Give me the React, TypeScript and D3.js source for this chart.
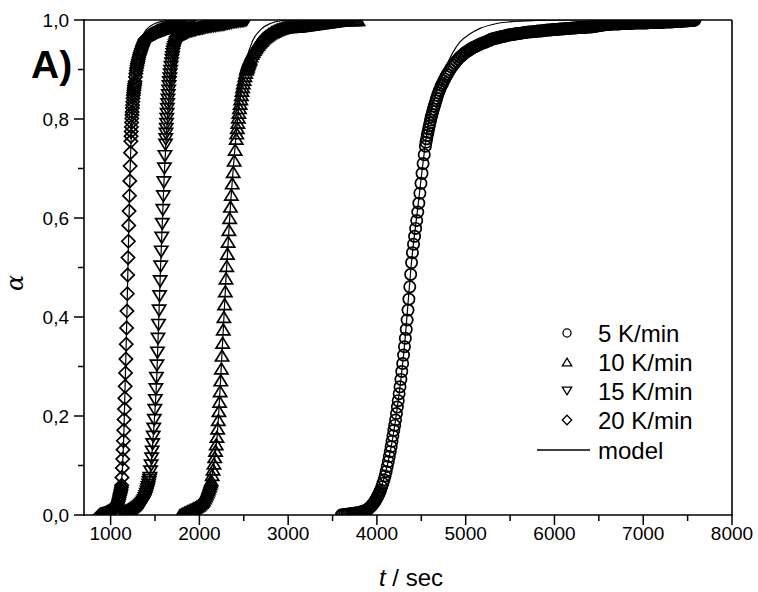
import React from "react";
import * as d3 from "d3";

// ---- data: [t (s), alpha] ----
const rate5K: [number, number][] = [
  [3600,0],[3620,0.0005],[3640,0.001],[3660,0.0015],[3680,0.002],[3700,0.0025],[3720,0.003],[3740,0.0035],[3760,0.004],[3780,0.0045],
  [3800,0.005],[3818,0.006],[3835,0.007],[3852,0.008],[3870,0.009],[3885,0.0105],[3900,0.012],[3912,0.014],[3925,0.016],[3938,0.0185],
  [3950,0.021],[3961,0.0235],[3972,0.026],[3982,0.029],[3992,0.032],[4001,0.035],[4010,0.038],[4018,0.041],[4025,0.044],[4032,0.047],
  [4040,0.050],[4054,0.057],[4067,0.064],[4080,0.071],[4092,0.079],
  [4104,0.088],[4116,0.098],[4128,0.108],[4139,0.118],[4150,0.128],[4160,0.138],[4170,0.149],[4180,0.160],[4190,0.171],[4200,0.181],
  [4210,0.192],[4220,0.205],[4230,0.218],[4240,0.231],[4250,0.245],[4260,0.259],[4270,0.274],[4280,0.290],[4290,0.306],[4300,0.323],
  [4310,0.340],[4320,0.357],[4330,0.375],[4340,0.394],[4350,0.414],[4360,0.436],[4370,0.461],[4380,0.486],[4390,0.510],[4400,0.530],
  [4412,0.547],[4424,0.563],[4436,0.579],[4448,0.595],[4460,0.612],[4472,0.630],[4484,0.650],[4496,0.670],[4508,0.690],[4520,0.710],
  [4533,0.728],[4546,0.745],[4553,0.753],[4560,0.760],[4567,0.767],[4575,0.773],[4582,0.780],[4590,0.786],[4597,0.792],[4605,0.798],
  [4612,0.804],[4620,0.809],[4628,0.815],[4637,0.820],[4646,0.826],[4655,0.831],[4664,0.837],[4673,0.842],[4683,0.848],[4693,0.853],
  [4704,0.858],[4715,0.863],[4727,0.868],[4740,0.872],[4752,0.877],[4765,0.881],[4778,0.886],[4792,0.890],[4808,0.895],[4825,0.900],
  [4842,0.905],[4860,0.909],[4877,0.913],[4895,0.917],[4915,0.921],[4935,0.925],[4955,0.928],[4975,0.931],[4993,0.934],
  [5011,0.936],[5028,0.938],[5045,0.940],[5062,0.942],[5080,0.944],[5097,0.9455],[5115,0.947],[5132,0.9485],[5150,0.950],[5167,0.9515],
  [5185,0.953],[5202,0.954],[5220,0.955],[5237,0.9565],[5255,0.958],[5272,0.9595],[5290,0.961],[5307,0.962],[5325,0.963],[5342,0.9635],
  [5360,0.964],[5377,0.965],[5395,0.966],[5412,0.9665],[5430,0.967],[5447,0.968],[5465,0.969],[5482,0.9695],[5500,0.970],[5517,0.9705],
  [5535,0.971],[5552,0.9715],[5570,0.972],[5587,0.9725],[5605,0.973],[5622,0.9735],[5640,0.974],[5657,0.9745],[5675,0.975],[5692,0.9755],
  [5710,0.976],[5727,0.976],[5745,0.976],[5762,0.9765],[5780,0.977],[5797,0.9775],[5815,0.978],[5832,0.978],[5850,0.978],[5867,0.9785],
  [5885,0.979],[5902,0.9795],[5920,0.980],[5937,0.980],[5955,0.980],[5972,0.9805],[5990,0.981],[6007,0.981],[6025,0.981],[6042,0.9815],
  [6060,0.982],[6077,0.982],[6095,0.982],[6112,0.9825],[6130,0.983],[6147,0.983],[6165,0.983],[6182,0.9835],[6200,0.984],[6217,0.984],
  [6235,0.984],[6252,0.9845],[6270,0.985],[6287,0.985],[6305,0.985],[6322,0.985],[6340,0.985],[6357,0.9855],[6375,0.986],[6392,0.986],
  [6410,0.986],[6427,0.9865],[6445,0.987],[6462,0.9875],[6480,0.988],[6497,0.9885],[6515,0.989],[6532,0.9895],[6550,0.990],[6567,0.9905],
  [6585,0.991],[6602,0.991],[6620,0.991],[6637,0.9915],[6655,0.992],[6672,0.992],[6690,0.992],[6707,0.992],[6725,0.992],[6742,0.9925],
  [6760,0.993],[6777,0.993],[6795,0.993],[6812,0.993],[6830,0.993],[6847,0.993],[6865,0.993],[6882,0.9935],[6900,0.994],[6917,0.994],
  [6935,0.994],[6952,0.994],[6970,0.994],[6987,0.994],[7005,0.994],[7022,0.994],[7040,0.994],[7057,0.9945],[7075,0.995],[7092,0.995],
  [7110,0.995],[7127,0.995],[7145,0.995],[7162,0.995],[7180,0.995],[7197,0.995],[7215,0.995],[7232,0.9955],[7250,0.996],[7267,0.996],
  [7285,0.996],[7302,0.996],[7320,0.996],[7337,0.9965],[7355,0.997],[7372,0.997],[7390,0.997],[7407,0.997],[7425,0.997],[7442,0.9975],
  [7460,0.998],[7477,0.998],[7495,0.998],[7512,0.9985],[7530,0.999],[7545,0.999],[7560,0.999],[7572,0.9995],[7583,1.000],
];

const rate10K: [number, number][] = [
  [1781,0],[1798,0.0015],[1815,0.003],[1832,0.0045],[1850,0.006],[1867,0.0075],[1885,0.009],[1902,0.0105],[1920,0.012],[1937,0.0135],
  [1955,0.015],[1972,0.017],[1990,0.019],[2005,0.0215],[2020,0.024],[2032,0.027],[2045,0.030],[2057,0.034],[2068,0.038],[2078,0.042],
  [2088,0.046],[2097,0.050],[2105,0.054],[2113,0.058],[2120,0.062],[2127,0.066],[2133,0.070],[2144,0.081],[2154,0.092],[2164,0.104],
  [2173,0.117],[2182,0.130],[2190,0.143],
  [2198,0.158],[2206,0.175],[2213,0.192],[2220,0.210],[2227,0.229],[2234,0.250],[2241,0.272],[2248,0.296],[2255,0.322],[2262,0.348],
  [2269,0.375],[2276,0.400],[2284,0.426],[2292,0.452],[2300,0.478],[2308,0.503],[2316,0.528],[2324,0.552],[2332,0.576],[2341,0.600],
  [2350,0.623],[2360,0.647],[2370,0.670],[2381,0.693],[2392,0.716],[2403,0.738],[2415,0.760],[2421,0.771],[2427,0.782],[2433,0.7925],
  [2439,0.803],[2445,0.8125],[2452,0.822],[2459,0.831],[2466,0.840],[2473,0.8485],[2480,0.857],[2487,0.8645],[2495,0.872],[2503,0.8795],
  [2512,0.887],[2521,0.8935],[2530,0.900],[2535,0.903],[2540,0.906],[2545,0.909],[2550,0.912],[2555,0.9145],[2560,0.917],[2565,0.9195],
  [2570,0.922],[2582,0.927],
  [2595,0.932],[2607,0.936],[2620,0.940],[2632,0.9435],[2645,0.947],[2657,0.950],[2670,0.953],[2682,0.9555],[2695,0.958],[2707,0.9605],
  [2720,0.963],[2735,0.965],[2750,0.967],[2765,0.969],[2780,0.971],[2797,0.973],[2815,0.975],[2832,0.9765],[2850,0.978],[2867,0.9795],
  [2885,0.981],[2902,0.982],[2920,0.983],[2937,0.984],[2955,0.985],[2972,0.9855],[2990,0.986],[3010,0.986],[3030,0.986],[3050,0.9865],
  [3070,0.987],[3090,0.987],[3110,0.987],[3130,0.9875],[3150,0.988],[3170,0.9885],[3190,0.989],[3210,0.9895],[3230,0.990],[3250,0.9905],
  [3270,0.991],[3290,0.9915],[3310,0.992],[3330,0.9925],[3350,0.993],[3370,0.9935],[3390,0.994],[3410,0.9945],[3430,0.995],[3450,0.9955],
  [3470,0.996],[3490,0.9965],[3510,0.997],[3530,0.9975],[3550,0.998],[3570,0.9985],[3590,0.999],[3610,0.9995],[3630,1],[3650,1],
  [3670,1],[3690,1],[3710,1],[3730,1],[3750,1],[3770,1],[3787,1],
];

const rate15K: [number, number][] = [
  [1140,0],[1152,0.001],[1165,0.002],[1177,0.003],[1190,0.004],[1202,0.005],[1215,0.006],[1227,0.007],[1240,0.008],[1252,0.009],
  [1265,0.010],[1277,0.0115],[1290,0.013],[1302,0.0145],[1315,0.016],[1327,0.018],[1340,0.020],[1350,0.022],[1360,0.024],[1369,0.027],
  [1378,0.030],[1386,0.034],[1395,0.038],[1402,0.0425],[1410,0.047],[1416,0.0515],[1422,0.056],[1428,0.061],[1433,0.066],[1438,0.0705],
  [1443,0.075],[1450,0.088],[1456,0.100],[1462,0.114],[1468,0.128],
  [1474,0.143],[1480,0.158],[1486,0.174],[1492,0.192],[1498,0.212],[1504,0.232],[1510,0.254],[1516,0.277],[1522,0.302],[1528,0.328],
  [1534,0.356],[1540,0.384],[1546,0.413],[1552,0.442],[1558,0.472],[1564,0.502],[1570,0.532],[1576,0.560],[1582,0.588],[1588,0.616],
  [1594,0.644],[1600,0.672],[1606,0.700],[1612,0.725],[1618,0.748],[1621,0.759],[1624,0.770],[1627,0.780],[1630,0.790],[1633,0.800],
  [1636,0.810],[1639,0.820],[1643,0.830],[1646,0.839],[1650,0.848],[1654,0.857],[1658,0.866],[1662,0.874],[1667,0.882],[1671,0.890],
  [1676,0.897],[1681,0.905],[1686,0.912],[1691,0.919],[1696,0.925],[1701,0.931],[1706,0.936],[1713,0.9405],[1720,0.945],[1727,0.9485],
  [1735,0.952],
  [1742,0.955],[1750,0.958],[1760,0.9605],[1770,0.963],[1780,0.965],[1790,0.967],[1801,0.9685],[1812,0.970],[1823,0.971],[1834,0.972],
  [1845,0.973],[1856,0.974],[1868,0.975],[1880,0.976],[1895,0.977],[1910,0.978],[1925,0.9785],[1940,0.979],[1955,0.980],[1970,0.981],
  [1985,0.9815],[2000,0.982],[2017,0.9825],[2035,0.983],[2052,0.984],[2070,0.985],[2087,0.9855],[2105,0.986],[2122,0.9865],[2140,0.987],
  [2160,0.9875],[2180,0.988],[2200,0.9885],[2220,0.989],[2243,0.9895],[2266,0.990],[2283,0.991],[2300,0.992],[2320,0.9925],[2340,0.993],
  [2360,0.994],[2380,0.995],[2400,0.9955],[2420,0.996],[2440,0.9965],[2460,0.997],[2480,0.9975],[2500,0.998],[2517,0.999],[2533,1],
];

const rate20K: [number, number][] = [
  [880,0],[890,0.0005],[900,0.001],[910,0.0015],[920,0.002],[930,0.0025],[940,0.003],[950,0.004],[960,0.005],[970,0.006],
  [980,0.007],[990,0.008],[1000,0.009],[1010,0.010],[1020,0.011],[1030,0.012],[1040,0.013],[1048,0.014],[1055,0.015],[1062,0.0165],
  [1068,0.018],[1074,0.021],[1080,0.024],[1086,0.028],[1092,0.032],[1097,0.036],[1102,0.040],[1106,0.043],[1110,0.046],[1114,0.049],
  [1117,0.052],[1121,0.056],[1124,0.060],[1128,0.076],[1132,0.095],[1136,0.113],
  [1140,0.132],[1144,0.150],[1148,0.171],[1152,0.193],[1156,0.214],[1160,0.236],[1164,0.260],[1168,0.287],[1172,0.315],[1176,0.345],
  [1180,0.378],[1184,0.412],[1188,0.447],[1192,0.485],[1196,0.520],[1200,0.553],[1204,0.585],[1208,0.614],[1212,0.645],[1216,0.675],
  [1220,0.705],[1224,0.732],[1228,0.755],[1230,0.765],[1232,0.775],[1234,0.784],[1236,0.793],[1238,0.801],[1240,0.808],[1242,0.814],
  [1245,0.822],[1247,0.828],[1250,0.835],[1253,0.842],[1256,0.848],[1259,0.853],[1262,0.858],[1265,0.8625],[1268,0.867],[1271,0.871],
  [1275,0.876],[1280,0.885],[1284,0.892],[1289,0.898],[1293,0.903],[1298,0.908],[1302,0.912],[1307,0.916],[1312,0.920],
  [1318,0.925],[1325,0.930],[1332,0.934],[1340,0.938],[1347,0.942],[1355,0.946],[1362,0.9495],[1370,0.953],[1378,0.9565],[1387,0.960],
  [1396,0.9615],[1405,0.963],[1415,0.9645],[1425,0.966],[1435,0.9675],[1445,0.969],[1455,0.970],[1465,0.971],[1477,0.972],[1490,0.973],
  [1504,0.9745],[1518,0.976],[1531,0.977],[1545,0.978],[1560,0.979],[1575,0.980],[1590,0.981],[1605,0.982],[1620,0.983],[1635,0.984],
  [1650,0.985],[1665,0.986],[1682,0.987],[1700,0.988],[1720,0.989],[1743,0.990],[1762,0.9915],[1780,0.993],[1800,0.9945],[1820,0.996],
  [1840,0.997],[1860,0.998],[1877,0.999],[1894,1],
];

// model curves
const model5K: [number, number][] = [
  [3600,0],[3750,0.003],[3900,0.013],[4000,0.036],[4100,0.087],[4200,0.18],[4300,0.323],[4400,0.53],[4460,0.62],[4520,0.713],
  [4580,0.79],[4620,0.822],[4661,0.848],[4720,0.882],[4785,0.909],[4860,0.936],[4936,0.956],[5050,0.972],[5161,0.983],[5350,0.993],
  [5533,0.997],[5800,0.999],[6200,1.0],[7600,1.0],
];
const model10K: [number, number][] = [
  [1780,0],[1950,0.012],[2060,0.035],[2140,0.075],[2200,0.16],[2250,0.31],[2300,0.48],[2350,0.625],[2400,0.74],[2440,0.815],
  [2480,0.87],[2530,0.92],[2600,0.958],[2700,0.982],[2800,0.993],[2950,0.999],[3100,1.0],[3790,1.0],
];
const model15K: [number, number][] = [
  [1140,0],[1280,0.01],[1380,0.03],[1440,0.075],[1480,0.16],[1520,0.28],[1560,0.49],[1600,0.67],[1640,0.80],[1680,0.89],
  [1720,0.935],[1780,0.965],[1860,0.985],[1980,0.996],[2150,1.0],[2540,1.0],
];
const model20K: [number, number][] = [
  [880,0],[1000,0.006],[1080,0.025],[1120,0.06],[1150,0.17],[1180,0.38],[1200,0.54],[1220,0.70],[1240,0.81],[1260,0.87],
  [1290,0.92],[1330,0.955],[1400,0.98],[1500,0.993],[1650,0.999],[1900,1.0],
];

const xMajorTicks = [1000, 2000, 3000, 4000, 5000, 6000, 7000, 8000];
const xMinorTicks = [1500, 2500, 3500, 4500, 5500, 6500, 7500];
const yMajorTicks = [0, 0.2, 0.4, 0.6, 0.8, 1.0];
const yMinorTicks = [0.1, 0.3, 0.5, 0.7, 0.9];
const legendLabels = ["5 K/min", "10 K/min", "15 K/min", "20 K/min", "model"];

const W = 758, H = 592;
const L = 84, R = 732, T = 20, B = 515;
const FONT = "'Liberation Sans', Arial, sans-serif";

type Shape = "circle" | "up" | "down" | "diamond";

function marker(shape: Shape, cx: number, cy: number, s: number, sw: number, key: any) {
  const common = { fill: "none", stroke: "#000", strokeWidth: sw };
  if (shape === "circle") return <circle key={key} cx={cx} cy={cy} r={s * 0.47} {...common} />;
  if (shape === "up") {
    const hw = s * 0.55, hh = s * 0.45;
    return <path key={key} d={`M${cx},${cy - hh}L${cx + hw},${cy + hh}L${cx - hw},${cy + hh}Z`} {...common} />;
  }
  if (shape === "down") {
    const hw = s * 0.55, hh = s * 0.45;
    return <path key={key} d={`M${cx},${cy + hh}L${cx + hw},${cy - hh}L${cx - hw},${cy - hh}Z`} {...common} />;
  }
  const h = s * 0.55;
  return <path key={key} d={`M${cx},${cy - h}L${cx + h},${cy}L${cx},${cy + h}L${cx - h},${cy}Z`} {...common} />;
}

export default function App() {
  const x = d3.scaleLinear().domain([700, 8000]).range([L, R]);
  const y = d3.scaleLinear().domain([0, 1]).range([B, T]);
  const line = d3.line<[number, number]>().x(d => x(d[0])).y(d => y(d[1])).curve(d3.curveMonotoneX);

  const series: { data: [number, number][]; shape: Shape }[] = [
    { data: rate5K, shape: "circle" },
    { data: rate10K, shape: "up" },
    { data: rate15K, shape: "down" },
    { data: rate20K, shape: "diamond" },
  ];
  const models = [model5K, model10K, model15K, model20K];
  const fmt = (v: number) => v.toFixed(1).replace(".", ",");

  const legendY = [333, 362, 391, 420, 450];
  const legendShapes: Shape[] = ["circle", "up", "down", "diamond"];

  return (
    <svg width={W} height={H} style={{ position: "absolute", left: 0, top: 0, background: "#fff" }} fontFamily={FONT}>
      <defs>
        <clipPath id="plot">
          <rect x={L} y={T} width={R - L} height={B - T} />
        </clipPath>
      </defs>
      <rect x={0} y={0} width={W} height={H} fill="#fff" />
      <g clipPath="url(#plot)">
        {series.map((s, si) => (
          <g key={si}>{s.data.map((d, i) => marker(s.shape, x(d[0]), y(d[1]), 12, 1.7, i))}</g>
        ))}
        {models.map((m, i) => (
          <path key={i} d={line(m) || ""} fill="none" stroke="#000" strokeWidth={1.2} />
        ))}
      </g>
      {/* frame */}
      <line x1={L} x2={R} y1={T} y2={T} stroke="#000" strokeWidth={1.6} />
      <line x1={R} x2={R} y1={T} y2={B} stroke="#000" strokeWidth={1.6} />
      <line x1={L} x2={R + 0.8} y1={B} y2={B} stroke="#000" strokeWidth={1.6} />
      <line x1={L} x2={L} y1={T - 0.8} y2={B + 0.8} stroke="#000" strokeWidth={1.6} />
      {/* x ticks */}
      {xMajorTicks.map(t => (
        <g key={t}>
          <line x1={x(t)} x2={x(t)} y1={B} y2={B + 10} stroke="#000" strokeWidth={1.5} />
          <text x={x(t)} y={540} textAnchor="middle" fontSize={19}>{t}</text>
        </g>
      ))}
      {xMinorTicks.map(t => (
        <line key={t} x1={x(t)} x2={x(t)} y1={B} y2={B + 6} stroke="#000" strokeWidth={1.5} />
      ))}
      {/* y ticks */}
      {yMajorTicks.map(v => (
        <g key={v}>
          <line x1={L - 10} x2={L} y1={y(v)} y2={y(v)} stroke="#000" strokeWidth={1.5} />
          <text x={69} y={y(v) + 7} textAnchor="end" fontSize={19}>{fmt(v)}</text>
        </g>
      ))}
      {yMinorTicks.map(v => (
        <line key={v} x1={L - 6} x2={L} y1={y(v)} y2={y(v)} stroke="#000" strokeWidth={1.5} />
      ))}
      {/* axis titles */}
      <text x={411} y={586} textAnchor="middle" fontSize={24}>
        <tspan fontStyle="italic">t</tspan> / sec
      </text>
      <text transform={`translate(23,283) rotate(-90)`} textAnchor="middle" fontSize={24} fontStyle="italic" fontFamily="'DejaVu Serif', serif">α</text>
      {/* panel label */}
      <text x={31} y={78} fontSize={39} fontWeight="bold">A)</text>
      {/* legend */}
      {legendShapes.map((s, i) => marker(s, 567, legendY[i], 8.6, 1.3, "lg" + i))}
      <line x1={537} x2={590} y1={legendY[4]} y2={legendY[4]} stroke="#000" strokeWidth={1.3} />
      {legendLabels.map((lab, i) => (
        <text key={lab} x={598} y={legendY[i] + 9} fontSize={24}>{lab}</text>
      ))}
    </svg>
  );
}
